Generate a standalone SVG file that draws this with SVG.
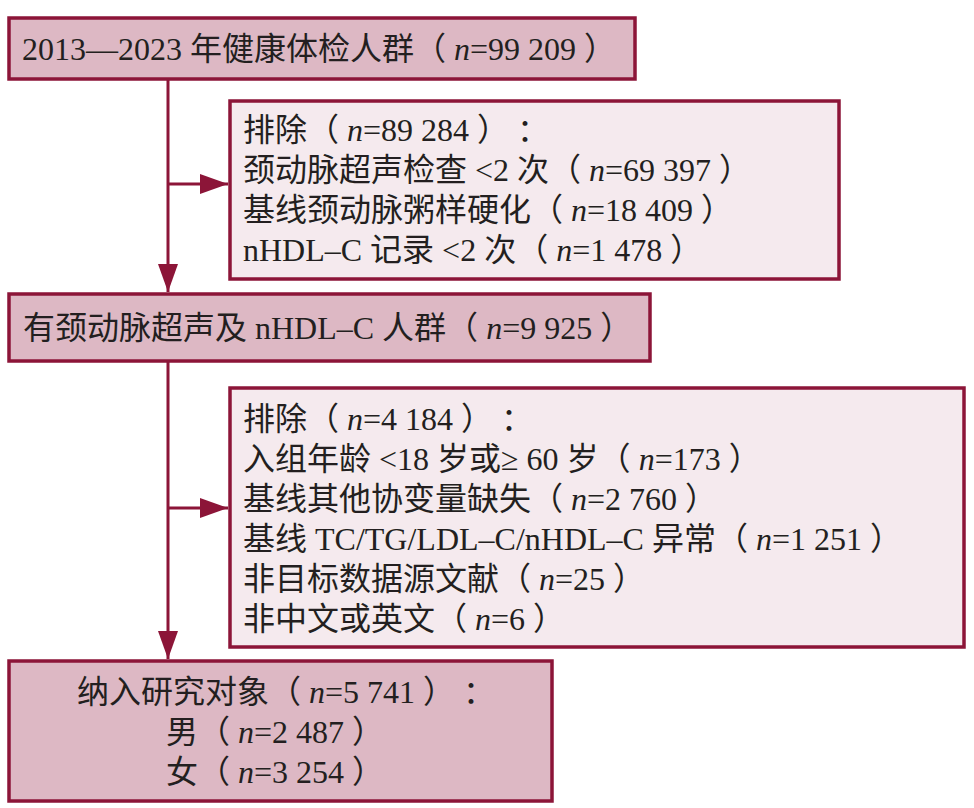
<svg xmlns="http://www.w3.org/2000/svg" width="974" height="808" viewBox="0 0 974 808">
<defs>
<style>
.box{stroke:#8C1538;stroke-width:3.5}
.dark{fill:#DDB8C4}
.light{fill:#F5EAEE}
.t{font-family:'Liberation Serif','Noto Sans CJK SC',serif;font-size:32px;fill:#231F20}
.i{font-style:italic}
.line{stroke:#8C1538;stroke-width:3;fill:none}
</style>
<marker id="ah" markerUnits="userSpaceOnUse" markerWidth="28" markerHeight="20" refX="28" refY="10" orient="auto" viewBox="0 0 28 20">
<path d="M0,0 L28,10 L0,20 Z" fill="#8C1538"/>
</marker>
</defs>
<rect width="974" height="808" fill="#FFFFFF"/>
<g id="connectors">
<line class="line" x1="168" y1="80" x2="168" y2="292" marker-end="url(#ah)"/>
<line class="line" x1="168" y1="184" x2="228" y2="184" marker-end="url(#ah)"/>
<line class="line" x1="168" y1="362" x2="168" y2="659" marker-end="url(#ah)"/>
<line class="line" x1="168" y1="508" x2="228" y2="508" marker-end="url(#ah)"/>
</g>
<g id="node1">
<rect class="box dark" x="9" y="18" width="626" height="61"/>
<text class="t" x="22" y="60">2013—2023 年健康体检人群（ <tspan class="i">n</tspan>=99 209 ）</text>
</g>
<g id="node2">
<rect class="box light" x="230" y="101" width="609" height="178"/>
<text class="t" x="243" y="141">排除（ <tspan class="i">n</tspan>=89 284 ） ：</text>
<text class="t" x="243" y="181">颈动脉超声检查 &lt;2 次（ <tspan class="i">n</tspan>=69 397 ）</text>
<text class="t" x="243" y="221">基线颈动脉粥样硬化（ <tspan class="i">n</tspan>=18 409 ）</text>
<text class="t" x="243" y="261">nHDL–C 记录 &lt;2 次（ <tspan class="i">n</tspan>=1 478 ）</text>
</g>
<g id="node3">
<rect class="box dark" x="9" y="294" width="641" height="67"/>
<text class="t" x="23" y="339">有颈动脉超声及 nHDL–C 人群（ <tspan class="i">n</tspan>=9 925 ）</text>
</g>
<g id="node4">
<rect class="box light" x="230" y="388" width="734" height="259"/>
<text class="t" x="243" y="430">排除（ <tspan class="i">n</tspan>=4 184 ） ：</text>
<text class="t" x="243" y="470">入组年龄 &lt;18 岁或≥ 60 岁（ <tspan class="i">n</tspan>=173 ）</text>
<text class="t" x="243" y="510">基线其他协变量缺失（ <tspan class="i">n</tspan>=2 760 ）</text>
<text class="t" x="243" y="550">基线 TC/TG/LDL–C/nHDL–C 异常（ <tspan class="i">n</tspan>=1 251 ）</text>
<text class="t" x="243" y="590">非目标数据源文献（ <tspan class="i">n</tspan>=25 ）</text>
<text class="t" x="243" y="630">非中文或英文（ <tspan class="i">n</tspan>=6 ）</text>
</g>
<g id="node5">
<rect class="box dark" x="9" y="661" width="543" height="140"/>
<text class="t" x="77" y="703">纳入研究对象（ <tspan class="i">n</tspan>=5 741 ） ：</text>
<text class="t" x="275" y="743" text-anchor="middle">男（ <tspan class="i">n</tspan>=2 487 ）</text>
<text class="t" x="275" y="783" text-anchor="middle">女（ <tspan class="i">n</tspan>=3 254 ）</text>
</g>
</svg>
